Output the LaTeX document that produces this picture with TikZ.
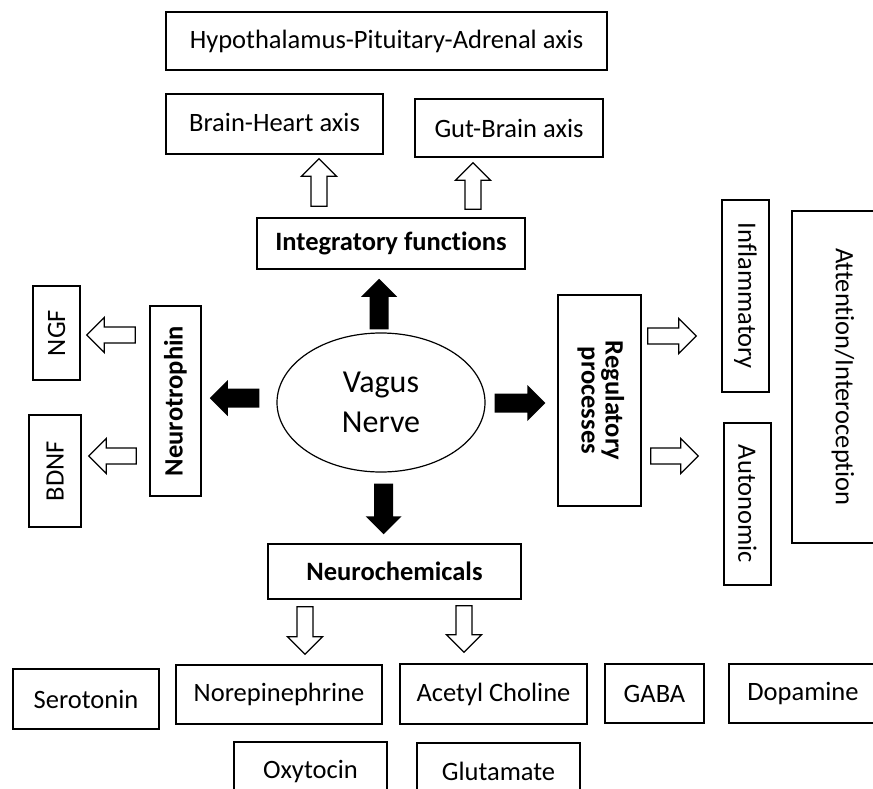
\documentclass[tikz,border=0pt]{standalone}
\usepackage{fontspec}
\setmainfont{Carlito}[Ligatures=NoCommon]
\usepackage{graphicx}
\usetikzlibrary{calc,shapes.geometric}
% #1 style, #2 base coordinate, #3 tip coordinate, #4 half shaft, #5 half head, #6 head length
\newcommand\BlockArrow[6]{%
  \coordinate (tmpH) at ($(#3)!#6!(#2)$);
  \path[#1] ($(#2)!#4!90:(#3)$) -- ($(tmpH)!#4!90:(#3)$) -- ($(tmpH)!#5!90:(#3)$) -- (#3)
    -- ($(tmpH)!#5!-90:(#3)$) -- ($(tmpH)!#4!-90:(#3)$) -- ($(#2)!#4!-90:(#3)$) -- cycle;}
\newcommand\Solid[2]{\BlockArrow{solidarrow}{#1}{#2}{9.5pt}{18pt}{18pt}}
\newcommand\Hollow[2]{\BlockArrow{hollowarrow}{#1}{#2}{8pt}{17.5pt}{17.5pt}}
\begin{document}
\begin{tikzpicture}[x=1pt,y=-1pt,
  box/.style={draw, line width=1.5pt, inner sep=0pt, align=center,
    font=\fontsize{26.5}{30}\selectfont},
  bbox/.style={box, font=\fontsize{26.5}{30}\selectfont\bfseries},
  solidarrow/.style={fill=black},
  hollowarrow/.style={draw=black, fill=white, line width=1.3pt, line join=miter}]
\useasboundingbox (0,0) rectangle (873,789);
\clip (0,0) rectangle (873,789);
% top
\node[box, minimum width=441pt, minimum height=58pt] (hpa) at (386.5,41) {Hypothalamus-Pituitary-Adrenal axis};
\node[box, minimum width=217pt, minimum height=60pt] (bh) at (274.5,124) {\raisebox{3pt}{Brain-Heart axis}};
\node[box, minimum width=188pt, minimum height=58pt] (gb) at (509,128) {Gut-Brain axis};
\node[bbox, minimum width=268pt, minimum height=51pt] (intg) at (391,243.5) {Integratory functions};
% centre
\node[draw, ellipse, line width=1.2pt, minimum width=208pt, minimum height=139pt, inner sep=0pt,
  align=center, font=\fontsize{32}{40}\selectfont] (vn) at (381,402.5) {Vagus\\Nerve};
% left
\node[bbox, minimum width=51pt, minimum height=190pt] (nt) at (175.5,401) {\rotatebox{90}{Neurotrophin}};
\node[box, minimum width=47pt, minimum height=94pt] (ngf) at (56.5,333) {\rotatebox{90}{NGF}};
\node[box, minimum width=52pt, minimum height=112pt] (bdnf) at (55,471) {\rotatebox{90}{BDNF}};
% right
\node[bbox, minimum width=83pt, minimum height=211pt] (reg) at (599.5,400.5) {\rotatebox{-90}{\begin{tabular}{@{}c@{}}Regulatory\\[-6pt]processes\end{tabular}}};
\node[box, minimum width=47pt, minimum height=192pt] (infl) at (745.5,296) {\rotatebox{-90}{Inflammatory}};
\node[box, minimum width=47pt, minimum height=162pt] (auto) at (747.5,504) {\rotatebox{-90}{Autonomic}};
\node[box, minimum width=102pt, minimum height=332pt] (attn) at (843,377) {\rotatebox{-90}{Attention/Interoception}};
% bottom
\node[bbox, minimum width=253pt, minimum height=55pt] (nc) at (394.5,571.5) {Neurochemicals};
\node[box, minimum width=146pt, minimum height=60pt] (sero) at (86,699) {Serotonin};
\node[box, minimum width=206pt, minimum height=59pt] (nore) at (279,694.5) {\raisebox{2pt}{Norepinephrine}};
\node[box, minimum width=187pt, minimum height=60pt] (ach) at (493.5,694) {Acetyl Choline};
\node[box, minimum width=99pt, minimum height=59pt] (gaba) at (654.5,693.5) {GABA};
\node[box, minimum width=148pt, minimum height=59pt] (dopa) at (803,693.5) {Dopamine};
\node[box, minimum width=153pt, minimum height=60pt] (oxy) at (310.5,772) {\raisebox{4pt}{Oxytocin}};
\node[box, minimum width=163pt, minimum height=60pt] (glu) at (498.5,773) {\raisebox{4pt}{Glutamate}};
% arrow end points
\coordinate (s1a) at ($(vn.north)+(-2,-3)$);   \coordinate (s1b) at ($(intg.south)+(-12,9)$);
\coordinate (s2a) at ($(vn.west)+(-17,-4.5)$); \coordinate (s2b) at ($(nt.east)+(8,-3)$);
\coordinate (s3a) at ($(vn.east)+(9,0.5)$);    \coordinate (s3b) at ($(reg.west)+(-12,2.5)$);
\coordinate (s4a) at ($(vn.south)+(2.5,11)$);  \coordinate (s4b) at ($(nc.north)+(-11,-9)$);
\coordinate (h1a) at ($(intg.north)+(-72,-11)$); \coordinate (h1b) at ($(bh.south)+(44.5,4)$);
\coordinate (h2a) at ($(intg.north)+(82,-8)$);   \coordinate (h2b) at ($(gb.south)+(-36,5)$);
\coordinate (h3a) at ($(nt.west)+(-14,-66)$);    \coordinate (h3b) at ($(ngf.east)+(6,2)$);
\coordinate (h4a) at ($(nt.west)+(-13,55)$);     \coordinate (h4b) at ($(bdnf.east)+(7,-15)$);
\coordinate (h5a) at ($(reg.east)+(6,-64.5)$);   \coordinate (h5b) at ($(infl.west)+(-25,40)$);
\coordinate (h6a) at ($(reg.east)+(9,55.5)$);    \coordinate (h6b) at ($(auto.west)+(-25,-48)$);
\coordinate (h7a) at ($(nc.south)+(-89.5,7)$);   \coordinate (h7b) at ($(nore.north)+(26,-10)$);
\coordinate (h8a) at ($(nc.south)+(69.5,6)$);    \coordinate (h8b) at ($(ach.north)+(-29.5,-11)$);
% solid arrows from the vagus nerve
\Solid{s1a}{s1b}
\Solid{s2a}{s2b}
\Solid{s3a}{s3b}
\Solid{s4a}{s4b}
% hollow arrows
\Hollow{h1a}{h1b}
\Hollow{h2a}{h2b}
\Hollow{h3a}{h3b}
\Hollow{h4a}{h4b}
\Hollow{h5a}{h5b}
\Hollow{h6a}{h6b}
\Hollow{h7a}{h7b}
\Hollow{h8a}{h8b}
\end{tikzpicture}
\end{document}
